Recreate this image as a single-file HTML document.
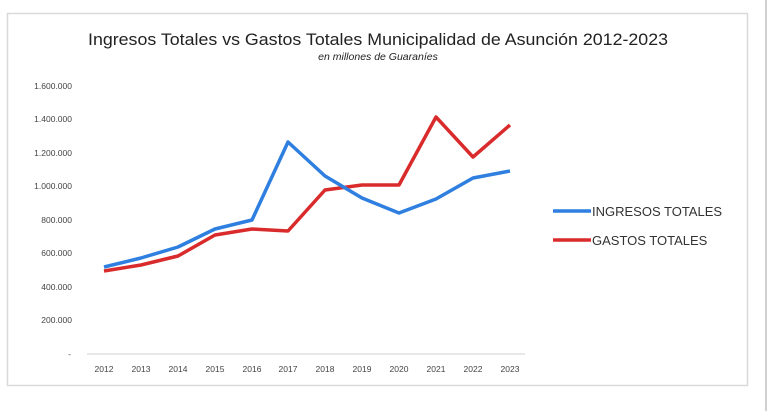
<!DOCTYPE html>
<html><head><meta charset="utf-8"><style>
body{margin:0;background:#fff;width:770px;height:411px;overflow:hidden;font-family:"Liberation Sans",sans-serif}
</style></head><body>
<svg width="770" height="411" xmlns="http://www.w3.org/2000/svg" font-family="Liberation Sans, sans-serif">
<rect x="0" y="0" width="770" height="411" fill="#fff"/>
<rect x="7.5" y="13.5" width="740" height="372" fill="#fff" stroke="#d9d9d9" stroke-width="1.5"/>
<line x1="766" y1="0" x2="766" y2="411" stroke="#d0d0d0" stroke-width="2"/>
<text x="88" y="45" font-size="17" textLength="580" lengthAdjust="spacingAndGlyphs" fill="#222">Ingresos Totales vs Gastos Totales Municipalidad de Asunción 2012-2023</text>
<text x="378" y="60" font-size="10.5" font-style="italic" text-anchor="middle" fill="#222">en millones de Guaraníes</text>
<g font-size="8.5" fill="#444" text-anchor="end">
<text x="72" y="89">1.600.000</text>
<text x="72" y="122">1.400.000</text>
<text x="72" y="156">1.200.000</text>
<text x="72" y="189">1.000.000</text>
<text x="72" y="223">800.000</text>
<text x="72" y="256">600.000</text>
<text x="72" y="290">400.000</text>
<text x="72" y="323">200.000</text>
<text x="71" y="357">-</text>
</g>
<line x1="87" y1="354" x2="525" y2="354" stroke="#d9d9d9" stroke-width="1.2"/>
<g font-size="8.5" fill="#444" text-anchor="middle">
<text x="104" y="372">2012</text><text x="141" y="372">2013</text><text x="178" y="372">2014</text><text x="215" y="372">2015</text><text x="252" y="372">2016</text><text x="288" y="372">2017</text><text x="325" y="372">2018</text><text x="362" y="372">2019</text><text x="399" y="372">2020</text><text x="436" y="372">2021</text><text x="473" y="372">2022</text><text x="510" y="372">2023</text>
</g>
<polyline fill="none" stroke="#d92b2b" stroke-width="3.5" stroke-linejoin="round" points="104,271 141,265 178,256 215,235 252,229 288,231 325,190 362,185 399,185 436,117 473,157 510,125"/>
<polyline fill="none" stroke="#2e7fe0" stroke-width="3.5" stroke-linejoin="round" points="104,267 141,258 178,247 215,229 252,220 288,142 325,176 362,198 399,213 436,199 473,178 510,171"/>
<line x1="553" y1="211" x2="591" y2="211" stroke="#2e7fe0" stroke-width="3.5"/>
<line x1="553" y1="240" x2="591" y2="240" stroke="#d92b2b" stroke-width="3.5"/>
<text x="592" y="216" font-size="13" fill="#333">INGRESOS TOTALES</text>
<text x="592" y="245" font-size="13" fill="#333">GASTOS TOTALES</text>
</svg>
</body></html>
